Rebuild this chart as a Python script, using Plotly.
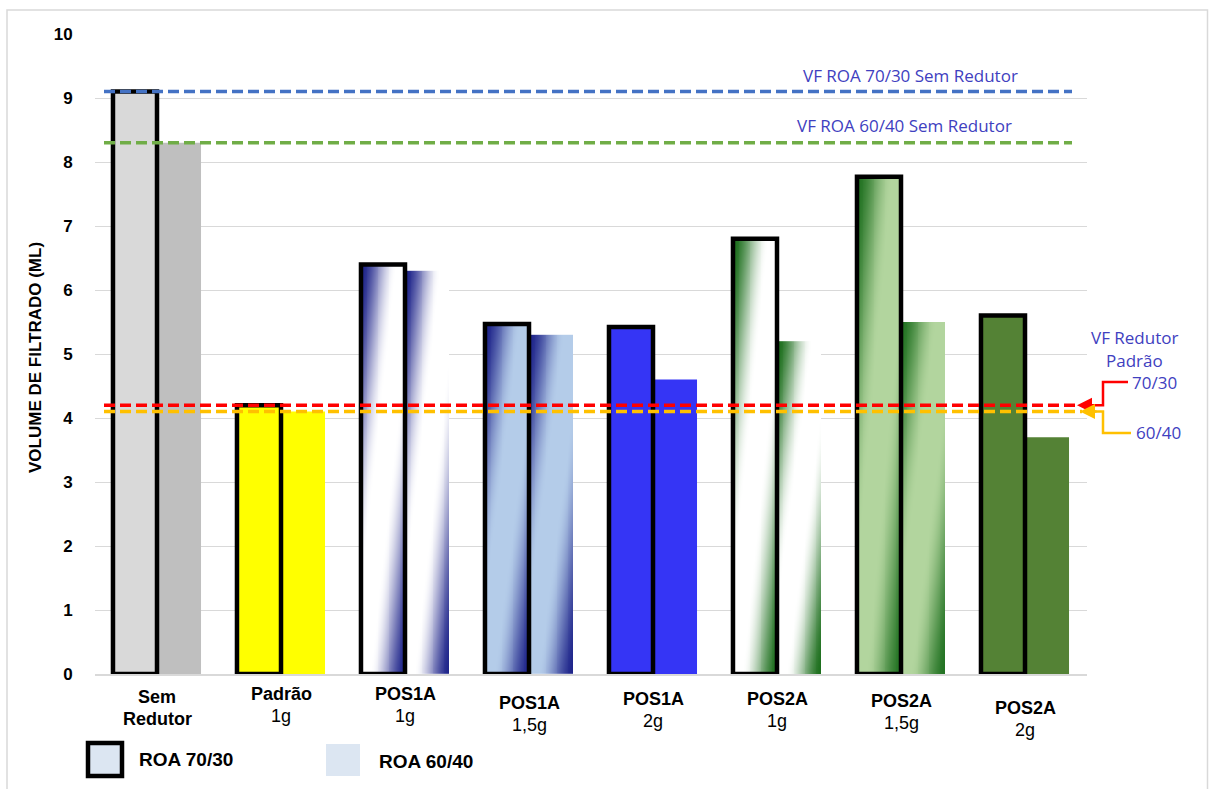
import plotly.graph_objects as go

# ---------------- data ----------------
categories = ["Sem Redutor", "Padrão 1g", "POS1A 1g", "POS1A 1,5g",
              "POS1A 2g", "POS2A 1g", "POS2A 1,5g", "POS2A 2g"]
label_top = ["Sem", "Padrão", "POS1A", "POS1A", "POS1A", "POS2A", "POS2A", "POS2A"]
label_sub = ["Redutor", "1g", "1g", "1,5g", "2g", "1g", "1,5g", "2g"]
roa_70_30 = [9.1, 4.2, 6.4, 5.47, 5.42, 6.8, 7.77, 5.6]
roa_60_40 = [8.3, 4.1, 6.3, 5.3, 4.6, 5.2, 5.5, 3.7]
vf_70_30_sem = 9.1
vf_60_40_sem = 8.3
vf_padrao_70_30 = 4.2
vf_padrao_60_40 = 4.1
y_ticks = [0, 1, 2, 3, 4, 5, 6, 7, 8, 9, 10]
legend_names = ["ROA 70/30", "ROA 60/40"]

# ---------------- layout geometry ----------------
W, H = 1209, 789
ML, MR, MT, MB = 95, 122, 34, 115
PW, PH = W - ML - MR, H - MT - MB


def xp(px):
    return (px - ML) / PW


def yp(py):
    return (H - MB - py) / PH


def yd(py):
    return (H - MB - py) / PH * 10.0


BW = 0.355  # bar width (category units)
xpos = list(range(len(categories)))

CLEAR = "rgba(0,0,0,0)"
DARK_BLUE = (30, 36, 138)
LIGHT_BLUE = (180, 204, 233)
WHITE = (255, 255, 255)
DARK_GREEN = (28, 110, 28)
MID_GREEN = (34, 114, 34)
LIGHT_GREEN = (178, 213, 158)

gradients = {
    2: (DARK_BLUE, WHITE),
    3: (DARK_BLUE, LIGHT_BLUE),
    5: (DARK_GREEN, WHITE),
    6: (MID_GREEN, LIGHT_GREEN),
}

solid_a = ["#D9D9D9", "#FFFF00", CLEAR, CLEAR, "#3535F5", CLEAR, CLEAR, "#548235"]
solid_b = ["#BFBFBF", "#FFFF00", CLEAR, CLEAR, "#3535F5", CLEAR, CLEAR, "#548235"]


def smooth(a):
    a = min(max(a, 0.0), 1.0)
    return a * a * (3 - 2 * a)


def light_frac(t, s):
    # diagonal dark -> light -> dark gradient (top-left dark, bottom-right dark)
    u = (t + (1.0 - s)) / 2.0
    d = min(u, 1.0 - u)
    return smooth(d / 0.4)


def rgb(c):
    return "rgb(%d,%d,%d)" % c


fig = go.Figure()

# gradient fills (smooth heatmaps spanning each bar)
NC, NR = 24, 40
for ci, (dark, light) in gradients.items():
    for vals, off0 in ((roa_70_30, -BW), (roa_60_40, 0.0)):
        h = vals[ci]
        xc = [xpos[ci] + off0 + (i + 0.5) * BW / NC for i in range(NC)]
        yc = [(j + 0.5) * h / NR for j in range(NR)]
        z = [[light_frac((i + 0.5) / NC, (j + 0.5) / NR) for i in range(NC)]
             for j in range(NR)]
        fig.add_trace(go.Heatmap(x=xc, y=yc, z=z, zmin=0, zmax=1, zsmooth="best",
                                 colorscale=[[0, rgb(dark)], [1, rgb(light)]],
                                 showscale=False, hoverinfo="skip"))

# solid fills
fig.add_trace(go.Bar(x=xpos, y=roa_70_30, offset=-BW, width=BW,
                     marker=dict(color=solid_a, line=dict(width=0)),
                     showlegend=False, hoverinfo="skip"))
fig.add_trace(go.Bar(x=xpos, y=roa_60_40, offset=0, width=BW,
                     marker=dict(color=solid_b, line=dict(width=0)),
                     showlegend=False, hoverinfo="skip"))
# outlines of 70/30 bars
fig.add_trace(go.Bar(x=xpos, y=roa_70_30, offset=-BW, width=BW,
                     marker=dict(color=CLEAR, line=dict(color="black", width=4.5)),
                     showlegend=False, hoverinfo="skip"))

shapes = []
# reference lines
for val, col, x1 in ((vf_70_30_sem, "#4472C4", 1072), (vf_60_40_sem, "#70AD47", 1072),
                     (vf_padrao_70_30, "#FF0000", 1079), (vf_padrao_60_40, "#FFC000", 1082)):
    shapes.append(dict(type="line", xref="paper", yref="y", x0=xp(104), x1=xp(x1),
                       y0=val, y1=val, layer="above",
                       line=dict(color=col, width=3.5, dash="11px,5px")))

# connectors to the right labels
shapes.append(dict(type="path", xref="paper", yref="y", layer="above",
                   path="M %f,%f L %f,%f L %f,%f L %f,%f" % (
                       xp(1128), yd(382), xp(1103), yd(382), xp(1103), vf_padrao_70_30,
                       xp(1090), vf_padrao_70_30),
                   line=dict(color="#FF0000", width=2.5)))
shapes.append(dict(type="path", xref="paper", yref="y", layer="above",
                   path="M %f,%f L %f,%f L %f,%f L %f,%f" % (
                       xp(1131), yd(433), xp(1103), yd(433), xp(1103), vf_padrao_60_40,
                       xp(1092), vf_padrao_60_40),
                   line=dict(color="#FFC000", width=2.5)))

# outer frame
shapes.append(dict(type="rect", xref="paper", yref="paper", x0=xp(7), x1=xp(1207.5),
                   y0=yp(795), y1=yp(10), line=dict(color="#D9D9D9", width=1.5), layer="below"))

# legend boxes
shapes.append(dict(type="rect", xref="paper", yref="paper", x0=xp(88), x1=xp(122),
                   y0=yp(776), y1=yp(743), fillcolor="#DCE6F2",
                   line=dict(color="black", width=4.5)))
shapes.append(dict(type="rect", xref="paper", yref="paper", x0=xp(326), x1=xp(360),
                   y0=yp(776), y1=yp(744), fillcolor="#DCE6F2", line=dict(width=0)))

ann = []
TXT = "#4040C0"
FT = "Open Sans"


def note(x, y, text, xanchor="center", size=17, color=TXT, family=FT, **kw):
    d = dict(x=x, y=y, xref="paper", yref="paper", text=text, showarrow=False,
             xanchor=xanchor, yanchor="middle",
             font=dict(family=family, size=size, color=color))
    d.update(kw)
    ann.append(d)


note(xp(910), yp(75), "VF ROA 70/30 Sem Redutor")
note(xp(904), yp(125), "VF ROA 60/40 Sem Redutor")
note(xp(1134), yp(337), "VF Redutor")
note(xp(1134), yp(360), "Padrão")
note(xp(1130), yp(382), "70/30", xanchor="left")
note(xp(1134), yp(432), "60/40", xanchor="left")

# arrow heads
ann.append(dict(x=xp(1077), y=vf_padrao_70_30, xref="paper", yref="y", ax=18, ay=0, text="",
                showarrow=True, arrowhead=2, arrowsize=1.2, arrowwidth=2.5, arrowcolor="#FF0000"))
ann.append(dict(x=xp(1080), y=vf_padrao_60_40, xref="paper", yref="y", ax=18, ay=0, text="",
                showarrow=True, arrowhead=2, arrowsize=1.2, arrowwidth=2.5, arrowcolor="#FFC000"))

# category labels
LF = "Liberation Sans"
label_y1 = [697, 694, 694, 703, 699, 699, 701, 708]
for i in range(len(categories)):
    ann.append(dict(x=xpos[i], y=yp(label_y1[i]), xref="x", yref="paper",
                    xanchor="center", yanchor="middle",
                    text="<b>%s</b>" % label_top[i], showarrow=False,
                    font=dict(family=LF, size=18, color="black")))
    sub = "<b>%s</b>" % label_sub[i] if i == 0 else label_sub[i]
    ann.append(dict(x=xpos[i], y=yp(label_y1[i] + 22), xref="x", yref="paper",
                    xanchor="center", yanchor="middle",
                    text=sub, showarrow=False, font=dict(family=LF, size=18, color="black")))

# legend texts
note(xp(137), yp(759), "<b>%s</b>" % legend_names[0], xanchor="left", size=19,
     color="black", family=LF)
note(xp(377), yp(761), "<b>%s</b>" % legend_names[1], xanchor="left", size=19,
     color="black", family=LF)

# y axis title
note(xp(35), yp(358), "<b>VOLUME DE FILTRADO (ML)</b>", size=17, color="black",
     family=LF, textangle=-90)

fig.update_layout(
    width=W, height=H,
    margin=dict(l=ML, r=MR, t=MT, b=MB, pad=0),
    barmode="overlay",
    paper_bgcolor="white", plot_bgcolor="white",
    showlegend=False,
    shapes=shapes, annotations=ann,
    xaxis=dict(range=[-0.5, len(categories) - 0.5], showticklabels=False, showgrid=False,
               showline=True, linecolor="#D9D9D9", linewidth=1.5, zeroline=False, ticks=""),
    yaxis=dict(range=[0, 10], tickvals=y_ticks, ticktext=["<b>%d</b>" % v for v in y_ticks],
               showgrid=True, gridcolor="#D9D9D9", gridwidth=1, zeroline=False,
               showline=False, ticks="outside", ticklen=18, tickcolor="rgba(0,0,0,0)",
               tickfont=dict(family=LF, size=17, color="black")),
)

fig.write_html("out.html", config={"displayModeBar": False},
               post_script="document.body.style.margin='0';")
